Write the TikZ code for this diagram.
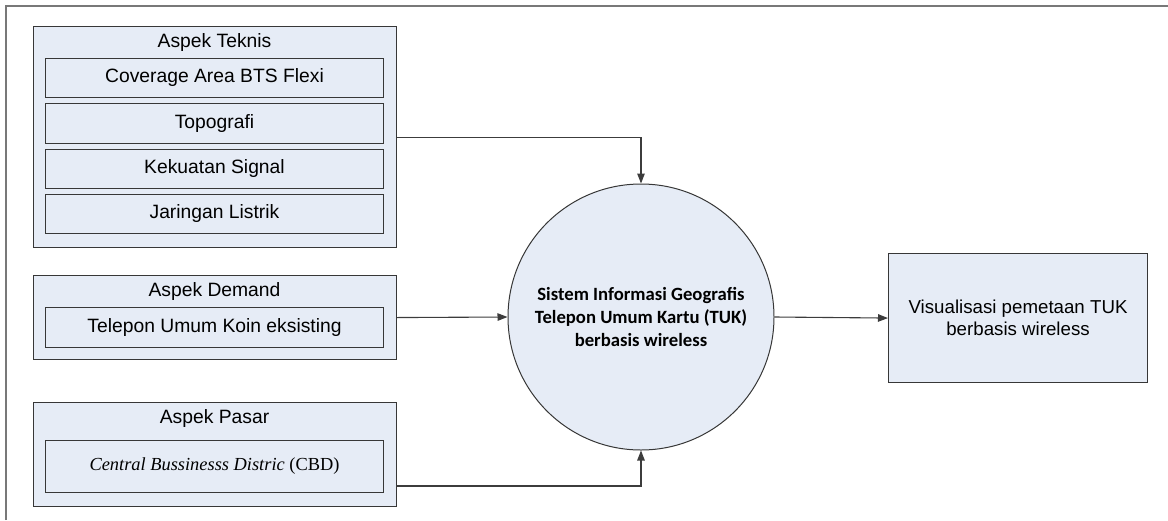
\documentclass[tikz,border=0pt]{standalone}
\usepackage{fontspec}
\setmainfont{Liberation Sans}
\newfontfamily\cbdfont{Liberation Serif}
\newfontfamily\corefont{Carlito}
\usetikzlibrary{arrows.meta,calc}
\definecolor{panel}{RGB}{230,236,246}
\definecolor{edge}{RGB}{55,55,55}
\definecolor{frame}{RGB}{120,120,120}
\definecolor{wire}{RGB}{60,60,60}
\begin{document}
\begin{tikzpicture}[x=1pt,y=-1pt,
  txt/.style={font=\fontsize{19.3}{22}\selectfont},
  group/.style={draw=edge, fill=panel, line width=1.1pt, anchor=north west, inner sep=0pt},
  item/.style={draw=edge, fill=panel, line width=1pt, anchor=north west, inner sep=0pt,
    minimum width=338, txt},
  title/.style={txt, inner sep=0pt},
  conn/.style={draw=wire, line width=1.1pt, -{Triangle[length=10pt,width=7.5pt]}}]
  \useasboundingbox (0,0) rectangle (1168,520);
  % page frame (top and left rules only)
  \draw[frame, line width=2pt] (6,520) -- (6,6) -- (1168,6);

  % technical aspects
  \node[group, minimum width=363, minimum height=221] (teknis) at (33,26) {};
  \node[title] (teknisT) at (214.5,43) {Aspek Teknis};
  \node[item, minimum height=39] (coverage) at (45,58) {Coverage Area BTS Flexi};
  \node[item, minimum height=40] (topo) at (45,103) {Topografi};
  \node[item, minimum height=39] (signal) at (45,149) {Kekuatan Signal};
  \node[item, minimum height=39] (listrik) at (45,194) {Jaringan Listrik};

  % demand aspects
  \node[group, minimum width=363, minimum height=84] (demand) at (33,275) {};
  \node[title] (demandT) at (214.5,292) {Aspek Demand};
  \node[item, minimum height=40] (koin) at (45,307) {Telepon Umum Koin eksisting};

  % market aspects
  \node[group, minimum width=363, minimum height=104] (pasar) at (33,402) {};
  \node[title] (pasarT) at (214.5,419) {Aspek Pasar};
  \node[item, minimum height=52, font=\cbdfont\fontsize{18.4}{22}\selectfont] (cbd) at (45,440)
    {\textit{Central Bussinesss Distric} (CBD)};

  % central system
  \node[circle, draw=edge, fill=panel, line width=1pt, minimum size=266, inner sep=0pt,
    align=center, font=\corefont\bfseries\fontsize{18.7}{22.7}\selectfont] (core) at (641,317)
    {Sistem Informasi Geografis\\Telepon Umum Kartu (TUK)\\berbasis wireless};

  % output
  \node[group, minimum width=259, minimum height=129, align=center, txt,
    font=\fontsize{18.7}{21.7}\selectfont] (visual) at (888,253)
    {Visualisasi pemetaan TUK\\berbasis wireless};

  % connectors
  \coordinate (pasarout) at (396,486);
  \draw[conn] (teknis.east) -| (core.north);
  \draw[conn] (demand.east) -- (core.west);
  \draw[conn] (pasarout) -| (core.south);
  \draw[conn] (core.east) -- (visual.west);
\end{tikzpicture}
\end{document}
